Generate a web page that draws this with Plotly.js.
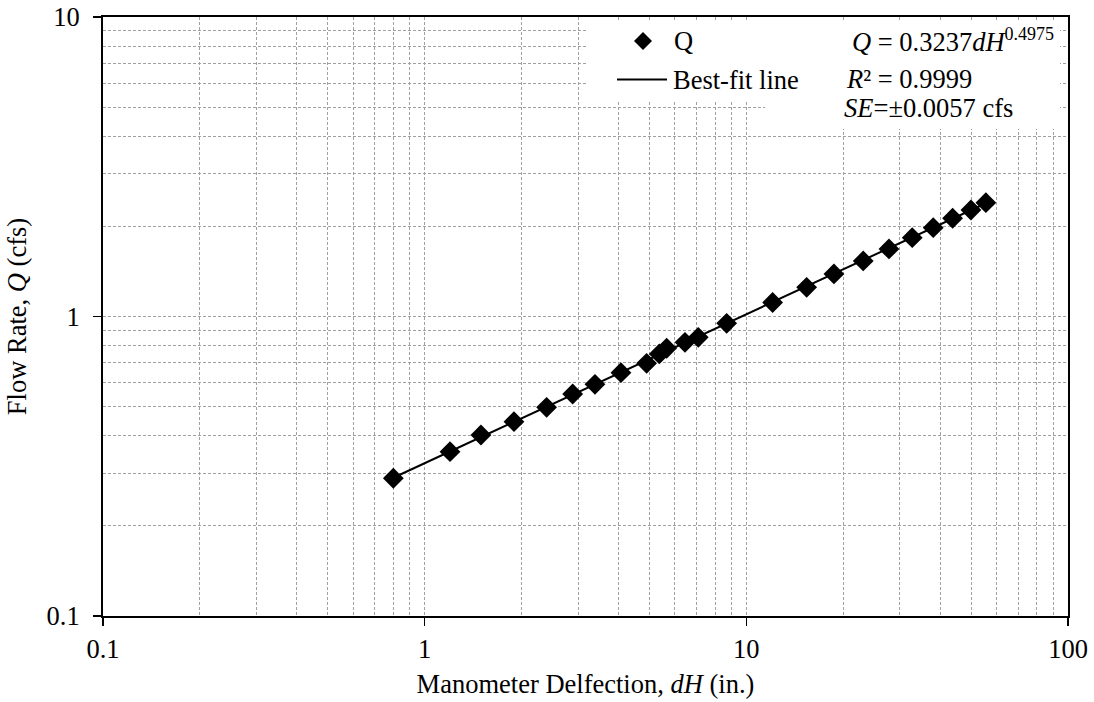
<!DOCTYPE html>
<html>
<head>
<meta charset="utf-8">
<script src="https://cdn.plot.ly/plotly-3.0.1.min.js"></script>
<style>
  html, body { margin: 0; padding: 0; background: #fff; }
  #chart { width: 1094px; height: 702px; }
</style>
</head>
<body>
<div id="chart"></div>
<script>
// Manometer deflection (in.) and measured flow rate (cfs)
const dH = [0.799, 1.199, 1.496, 1.895, 2.394, 2.885, 3.384, 4.076, 4.898, 5.362,
            5.653, 6.446, 7.088, 8.686, 12.07, 15.40, 18.72, 23.09, 27.76, 32.79,
            38.11, 43.78, 49.92, 55.55];
const Q  = [0.2884, 0.3537, 0.4021, 0.4456, 0.4976, 0.5511, 0.5936, 0.6492, 0.6977, 0.7497,
            0.7833, 0.8200, 0.8522, 0.9491, 1.1135, 1.2517, 1.3868, 1.5326, 1.6806, 1.8334,
            1.9796, 2.128, 2.268, 2.399];

// Power-law fit Q = a * dH^b
const FIT_A = 0.3237;
const FIT_B = 0.4975;
const FIT_R2 = '0.9999';
const FIT_SE = '0.0057';
const fitX = [dH[0], dH[dH.length - 1]];
const fitY = fitX.map(x => FIT_A * Math.pow(x, FIT_B));

const xTickVals = [0.1, 1, 10, 100];
const xTickText = ['0.1', '1', '10', '100'];
const yTickVals = [0.1, 1, 10];
const yTickText = ['0.1', '1', '10'];

// minor grid at 2..9 of every decade
const xMinor = [];
[0.1, 1, 10].forEach(d => { for (let k = 2; k <= 9; k++) xMinor.push(+(d * k).toPrecision(3)); });
const yMinor = [];
[0.1, 1].forEach(d => { for (let k = 2; k <= 9; k++) yMinor.push(+(d * k).toPrecision(3)); });

const FONT = 'Liberation Serif, Times New Roman, serif';
const FS = 26.5;
const GRID = '#a0a0a0';
const txt = { family: FONT, size: FS, color: '#000' };

// plot area in page pixels, used to place the key and the statistics box
const PL = 103, PR = 1068, PT = 17, PB = 616;
const px = v => (v - PL) / (PR - PL);
const py = v => (PB - v) / (PB - PT);

const traces = [
  {
    x: fitX, y: fitY, type: 'scatter', mode: 'lines', name: 'Best-fit line',
    line: { color: '#000', width: 2 }, hoverinfo: 'skip'
  },
  {
    x: dH, y: Q, type: 'scatter', mode: 'markers', name: 'Q',
    marker: { symbol: 'diamond', size: 16, color: '#000', line: { width: 0 } }
  }
];

const axisCommon = {
  type: 'log',
  showline: true, linecolor: '#000', linewidth: 2, mirror: true,
  ticks: 'outside', ticklen: 8, tickwidth: 1.5, tickcolor: '#000',
  showgrid: true, gridcolor: GRID, gridwidth: 1, griddash: '3px,2px',
  zeroline: false,
  tickfont: txt
};

const layout = {
  width: 1094, height: 702,
  margin: { l: PL, r: 1094 - PR, t: PT, b: 702 - PB },
  paper_bgcolor: '#fff', plot_bgcolor: '#fff',
  font: txt,
  showlegend: false,
  xaxis: Object.assign({}, axisCommon, {
    range: [-1, 2],
    tickvals: xTickVals, ticktext: xTickText,
    minor: { tickvals: xMinor, showgrid: true, gridcolor: GRID, gridwidth: 1, griddash: '3px,2px', ticks: '' },
    title: { text: 'Manometer Delfection, <i>dH</i> (in.)', font: txt, standoff: 12 }
  }),
  yaxis: Object.assign({}, axisCommon, {
    range: [-1, 1],
    tickvals: yTickVals, ticktext: yTickText,
    ticklabelstandoff: 8,
    minor: { tickvals: yMinor, showgrid: true, gridcolor: GRID, gridwidth: 1, griddash: '3px,2px', ticks: '' },
    title: { text: 'Flow Rate, <i>Q</i> (cfs)', font: txt, standoff: 12 }
  }),
  shapes: [
    // white panels behind the key and the fit statistics
    { type: 'rect', xref: 'paper', yref: 'paper', x0: px(588), x1: px(765), y0: py(100), y1: py(20),
      fillcolor: '#fff', line: { width: 0 }, layer: 'above' },
    { type: 'rect', xref: 'paper', yref: 'paper', x0: px(765), x1: px(1060), y0: py(129), y1: py(20),
      fillcolor: '#fff', line: { width: 0 }, layer: 'above' },
    // key: diamond for the measurements
    { type: 'path', xref: 'paper', yref: 'paper', xsizemode: 'pixel', ysizemode: 'pixel',
      xanchor: px(643), yanchor: py(41), path: 'M0,9 L9,0 L0,-9 L-9,0 Z',
      fillcolor: '#000', line: { width: 0 }, layer: 'above' },
    // key: line for the fit
    { type: 'line', xref: 'paper', yref: 'paper', x0: px(617), x1: px(667), y0: py(79.5), y1: py(79.5),
      line: { color: '#000', width: 2 }, layer: 'above' }
  ],
  annotations: [
    { xref: 'paper', yref: 'paper', x: px(672), y: py(41), xanchor: 'left', yanchor: 'middle',
      showarrow: false, text: 'Q', font: txt },
    { xref: 'paper', yref: 'paper', x: px(671), y: py(80), xanchor: 'left', yanchor: 'middle',
      showarrow: false, text: 'Best-fit line', font: txt },
    { xref: 'paper', yref: 'paper', x: px(850), y: py(41), xanchor: 'left', yanchor: 'middle',
      showarrow: false,
      text: '<i>Q</i> = ' + FIT_A.toFixed(4) + '<i>dH</i><sup><span style="font-size:18px">' + FIT_B.toFixed(4) + '</span></sup>',
      font: txt },
    { xref: 'paper', yref: 'paper', x: px(844), y: py(79), xanchor: 'left', yanchor: 'middle',
      showarrow: false, text: '<i>R</i>² = ' + FIT_R2, font: txt },
    { xref: 'paper', yref: 'paper', x: px(842), y: py(108), xanchor: 'left', yanchor: 'middle',
      showarrow: false, text: '<i>SE</i>=±' + FIT_SE + ' cfs', font: txt }
  ]
};

Plotly.newPlot('chart', traces, layout, { displayModeBar: false, staticPlot: true });
</script>
</body>
</html>
